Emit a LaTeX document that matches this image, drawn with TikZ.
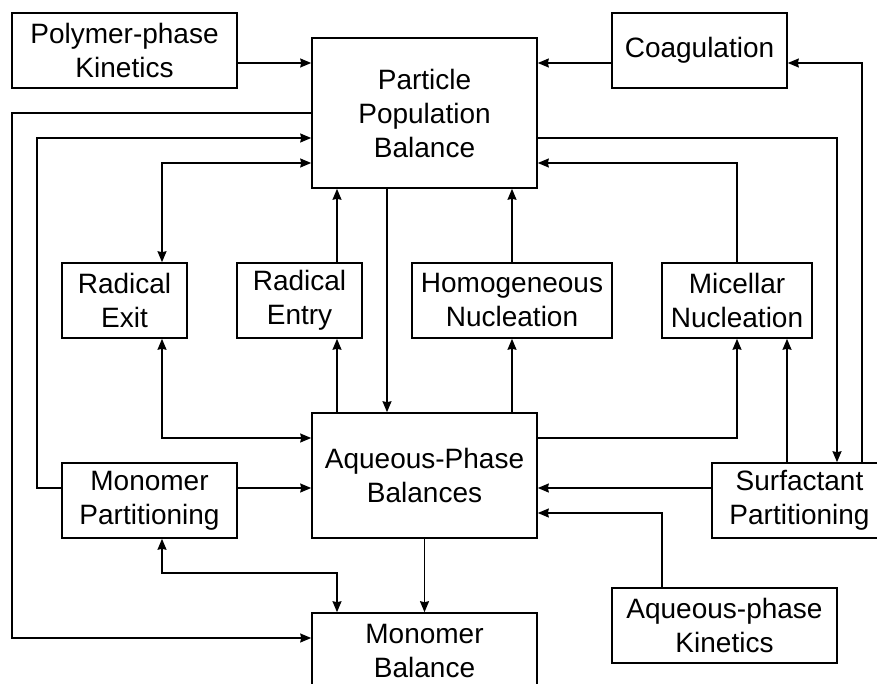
\documentclass[tikz,border=0pt]{standalone}
\usepackage{fontspec}
\setmainfont{Liberation Sans}
\usetikzlibrary{arrows.meta}
\tikzset{
  blk/.style={draw, line width=1.6pt, align=center, inner sep=0pt,
    font=\fontsize{28}{34}\selectfont},
  arr/.style={line width=1.6pt, -{Stealth[length=11pt,width=9pt,inset=1pt]}},
  arr2/.style={line width=1.6pt,
    {Stealth[length=11pt,width=9pt,inset=1pt]}-{Stealth[length=11pt,width=9pt,inset=1pt]}}
}
\newcommand{\blk}[6]{\node[blk, minimum width={(#4-#2)*25pt}, minimum height={(#5-#3)*25pt}] (#1) at ({(#2+#4)/2},{(#3+#5)/2}) {#6};}

\begin{document}
\begin{tikzpicture}[x=25pt,y=-25pt]
    \useasboundingbox (-0.48,-0.52) rectangle (34.6,26.84);
    \clip (-0.48,-0.52) rectangle (34.6,26.84);
    \blk{pk}{0}{0}{9}{3}{Polymer-phase\\Kinetics}
    \blk{ppb}{12}{1}{21}{7}{Particle\\Population\\Balance}
    \blk{coag}{24}{0}{31}{3}{Coagulation}
    \blk{rexit}{2}{10}{7}{13}{Radical\\Exit}
    \blk{rentry}{9}{10}{14}{13}{Radical\\Entry}
    \blk{homo}{16}{10}{24}{13}{Homogeneous\\Nucleation}
    \blk{mic}{26}{10}{32}{13}{Micellar\\Nucleation}
    \blk{aq}{12}{16}{21}{21}{Aqueous-Phase\\Balances}
    \blk{mp}{2}{18}{9}{21}{Monomer\\Partitioning}
    \blk{sp}{28}{18}{35}{21}{Surfactant\\Partitioning}
    \blk{ak}{24}{23}{33}{26}{Aqueous-phase\\Kinetics}
    \blk{mb}{12}{24}{21}{27}{Monomer\\Balance}

    \draw[arr] (pk.east |- 0,2) -- (ppb.west |- 0,2);
    \draw[arr] (coag.west |- 0,2) -- (ppb.east |- 0,2);
    \draw[arr] (sp.north -| 34,0) |- (coag.east |- 0,2);
    \draw[arr] (ppb.west |- 0,4) -| (0,25) -- (mb.west |- 0,25);
    \draw[arr] (mp.west |- 0,19) -| (1,5) -- (ppb.west |- 0,5);
    \draw[arr2] (rexit.north -| 6,0) |- (ppb.west |- 0,6);
    \draw[arr] (rentry.north -| 13,0) -- (ppb.south -| 13,0);
    \draw[arr] (ppb.south -| 15,0) -- (aq.north -| 15,0);
    \draw[arr] (homo.north -| 20,0) -- (ppb.south -| 20,0);
    \draw[arr] (mic.north -| 29,0) |- (ppb.east |- 0,6);
    \draw[arr] (ppb.east |- 0,5) -| (sp.north -| 33,0);
    \draw[arr] (aq.north -| 13,0) -- (rentry.south -| 13,0);
    \draw[arr] (aq.north -| 20,0) -- (homo.south -| 20,0);
    \draw[arr] (aq.east |- 0,17) -| (mic.south -| 29,0);
    \draw[arr] (sp.north -| 31,0) -- (mic.south -| 31,0);
    \draw[arr2] (rexit.south -| 6,0) |- (aq.west |- 0,17);
    \draw[arr] (mp.east |- 0,19) -- (aq.west |- 0,19);
    \draw[arr] (sp.west |- 0,19) -- (aq.east |- 0,19);
    \draw[arr] (ak.north -| 26,0) |- (aq.east |- 0,20);
    \draw[arr] (aq.south) -- (mb.north);
    \draw[arr2] (mp.south -| 6,0) |- (13,22.4) -- (mb.north -| 13,0);
\end{tikzpicture}
\end{document}
